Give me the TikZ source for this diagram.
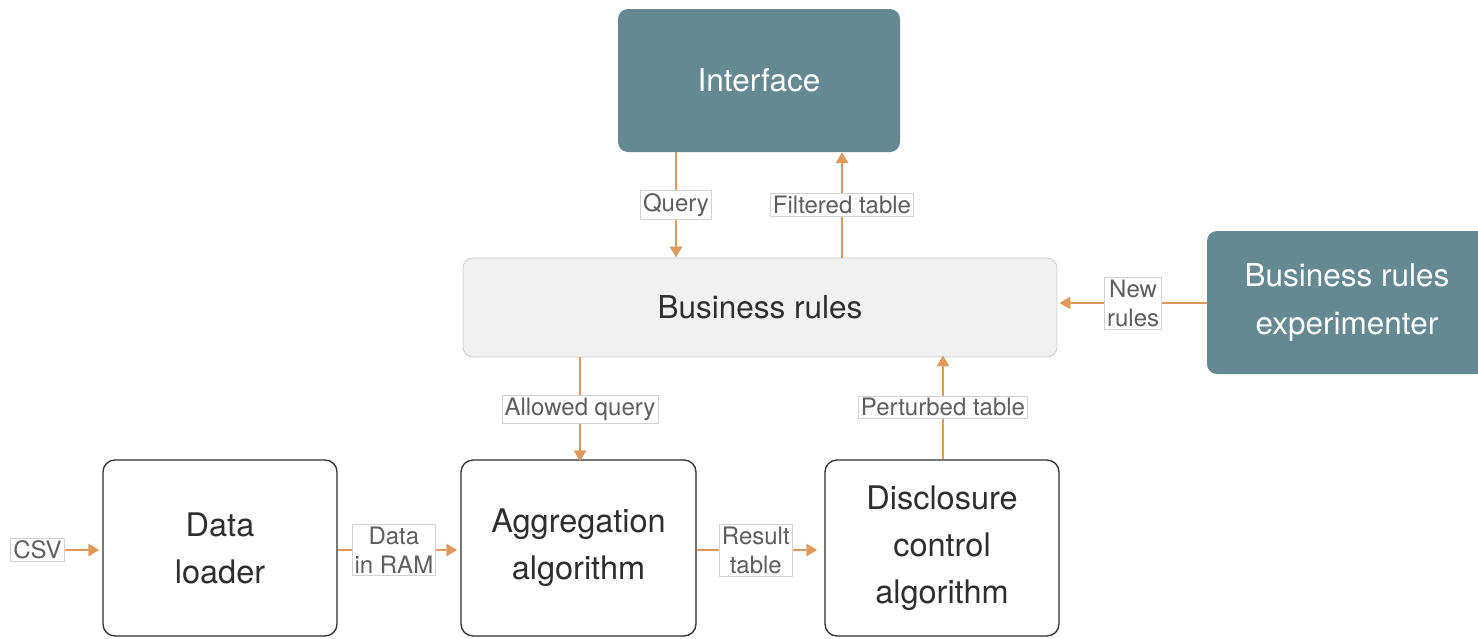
\documentclass[tikz,border=0pt]{standalone}
\usepackage{fontspec}
\setmainfont{TeX Gyre Heros}
\usetikzlibrary{arrows.meta}
\definecolor{teal}{HTML}{658993}
\definecolor{lightbg}{HTML}{F0F1F0}
\definecolor{lightbd}{HTML}{C8CACA}
\definecolor{orng}{HTML}{E0995A}
\definecolor{txt}{HTML}{2E2E2E}
\definecolor{lbltxt}{HTML}{5E5E5E}
\definecolor{lblbd}{HTML}{D2D2D2}
\begin{document}
\begin{tikzpicture}[x=1pt,y=-1pt,
  darkbox/.style={fill=teal,rounded corners=10pt,text=white,font=\fontsize{31.5}{48}\selectfont,align=center,inner sep=0},
  whitebox/.style={draw=txt,line width=1.3pt,fill=white,rounded corners=12pt,text=txt,font=\fontsize{32.5}{47}\selectfont,align=center,inner sep=0},
  lbl/.style={draw=lblbd,line width=0.8pt,fill=white,text=lbltxt,font=\fontsize{24}{29}\selectfont,align=center,inner sep=2.5pt},
  conn/.style={draw=orng,line width=2.8pt,-{Triangle[length=11pt,width=12pt]}}]
\useasboundingbox (0,0) rectangle (1478,638);
% boxes
\node[darkbox,minimum width=282pt,minimum height=143pt] (iface) at (759,80.5) {Interface};
\node[draw=lightbd,line width=0.8pt,fill=lightbg,rounded corners=10pt,text=txt,font=\fontsize{31.5}{38}\selectfont,inner sep=0,minimum width=594pt,minimum height=99pt] (rules) at (760,307.5) {Business rules};
\node[darkbox,minimum width=280pt,minimum height=143pt] (exper) at (1347,302.5) {Business rules\\experimenter};
\node[whitebox,minimum width=234pt,minimum height=176pt] (loader) at (220,548) {Data\\loader};
\node[whitebox,minimum width=235pt,minimum height=176pt] (agg) at (578.5,548) {Aggregation\\algorithm};
\node[whitebox,minimum width=234pt,minimum height=176pt] (disc) at (942,548) {Disclosure\\control\\algorithm};
% connectors
\draw[conn] (iface.south -| 676,0) -- node[lbl,pos=0.5] {Query} (rules.north -| 676,0);
\draw[conn] (rules.north -| 842,0) -- node[lbl,pos=0.5] {Filtered table} (iface.south -| 842,0);
\draw[conn] (rules.south -| 580,0) -- node[lbl,pos=0.5] {Allowed query} ([yshift=-2pt]agg.north -| 580,0);
\draw[conn] (disc.north -| 943,0) -- node[lbl,pos=0.5] {Perturbed table} ([yshift=2pt]rules.south -| 943,0);
\draw[conn] (exper.west |- 0,303) -- node[lbl,pos=0.5] {New\\rules} ([xshift=2pt]rules.east |- 0,303);
\node[lbl] (csv) at (37.5,550) {CSV};
\draw[conn] (csv.east) -- ([xshift=-3pt]loader.west |- 0,550);
\draw[conn] (loader.east |- 0,550) -- node[lbl,pos=0.47] {Data\\in RAM} ([xshift=-3pt]agg.west |- 0,550);
\draw[conn] (agg.east |- 0,550) -- node[lbl,pos=0.49] {Result\\table} ([xshift=-7pt]disc.west |- 0,550);
\end{tikzpicture}
\end{document}
